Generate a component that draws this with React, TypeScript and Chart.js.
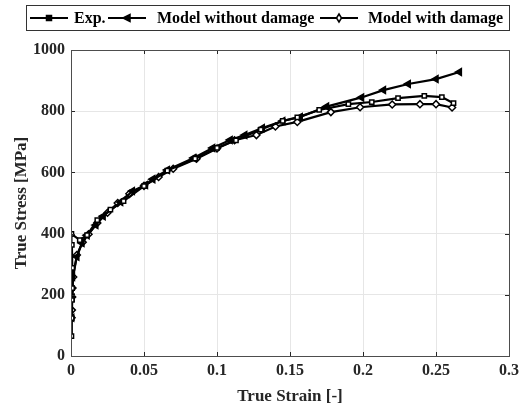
import React, { useEffect, useRef } from "react";
import { Chart, registerables } from "chart.js";

Chart.register(...registerables);

const expStrain = [0.0003, 0.0005, 0.0006, 0.0008, 0.0009, 0.0006, 0.0003, 0.006, 0.011, 0.018, 0.027, 0.036, 0.05, 0.066, 0.085, 0.1, 0.113, 0.13, 0.145, 0.155, 0.17, 0.19, 0.206, 0.224, 0.242, 0.254, 0.262];
const expStress = [65, 124, 183, 222, 288, 363, 399, 379, 395, 444, 478, 506, 555, 606, 645, 680, 705, 740, 768, 780, 804, 823, 830, 843, 850, 846, 826];

const noDmgStrain = [0.0005, 0.0008, 0.001, 0.004, 0.0075, 0.011, 0.017, 0.022, 0.034, 0.042, 0.051, 0.056, 0.066, 0.084, 0.097, 0.109, 0.119, 0.131, 0.145, 0.157, 0.175, 0.199, 0.214, 0.231, 0.25, 0.266];
const noDmgStress = [125, 190, 258, 324, 369, 395, 428, 457, 503, 539, 559, 578, 608, 647, 680, 706, 722, 745, 768, 781, 815, 845, 869, 889, 905, 928];

const dmgStrain = [0.0004, 0.0006, 0.0008, 0.001, 0.0015, 0.004, 0.008, 0.012, 0.018, 0.025, 0.032, 0.04, 0.05, 0.06, 0.07, 0.086, 0.1, 0.112, 0.127, 0.14, 0.155, 0.178, 0.198, 0.22, 0.239, 0.25, 0.261];
const dmgStress = [125, 150, 193, 222, 258, 330, 372, 398, 435, 468, 500, 530, 556, 585, 612, 645, 678, 705, 722, 750, 765, 797, 813, 822, 823, 823, 812];

const xTicks = [0, 0.05, 0.1, 0.15, 0.2, 0.25, 0.3];
const yTicks = [0, 200, 400, 600, 800, 1000];
const seriesNames = ["Exp.", "Model without damage", "Model with damage"];

const toPts = (xs: number[], ys: number[]) => xs.map((x, i) => ({ x, y: ys[i] }));

const FONT = "'Liberation Serif', 'Times New Roman', serif";
const TXT = "#262626";

function drawMarker(ctx: CanvasRenderingContext2D, kind: number, x: number, y: number) {
  ctx.save();
  ctx.lineWidth = 1.5;
  ctx.strokeStyle = "#000";
  ctx.beginPath();
  if (kind === 0) {
    ctx.rect(x - 2.5, y - 2.5, 5, 5);
    ctx.fillStyle = "#000";
    ctx.fill();
  } else if (kind === 1) {
    ctx.moveTo(x - 4, y);
    ctx.lineTo(x + 3, y - 3.5);
    ctx.lineTo(x + 3, y + 3.5);
    ctx.closePath();
    ctx.fillStyle = "#000";
    ctx.fill();
  } else {
    ctx.moveTo(x, y - 4);
    ctx.lineTo(x + 2.5, y);
    ctx.lineTo(x, y + 4);
    ctx.lineTo(x - 2.5, y);
    ctx.closePath();
    ctx.fillStyle = "#fff";
    ctx.fill();
  }
  ctx.stroke();
  ctx.restore();
}

const framePlugin = {
  id: "frame",
  afterDatasetsDraw(chart: any) {
    const { ctx, chartArea: a, scales } = chart;
    ctx.save();
    ctx.strokeStyle = "#262626";
    ctx.lineWidth = 1;
    xTicks.forEach((t) => {
      const px = Math.round(scales.x.getPixelForValue(t)) + 0.5;
      ctx.beginPath();
      ctx.moveTo(px, a.bottom);
      ctx.lineTo(px, a.bottom - 4);
      ctx.moveTo(px, a.top);
      ctx.lineTo(px, a.top + 4);
      ctx.stroke();
    });
    yTicks.forEach((t) => {
      const py = Math.round(scales.y.getPixelForValue(t)) + 0.5;
      ctx.beginPath();
      ctx.moveTo(a.left, py);
      ctx.lineTo(a.left + 4, py);
      ctx.moveTo(a.right, py);
      ctx.lineTo(a.right - 4, py);
      ctx.stroke();
    });
    ctx.strokeStyle = "#4d4d4d";
    ctx.strokeRect(Math.round(a.left) + 0.5, Math.round(a.top) + 0.5, Math.round(a.right - a.left), Math.round(a.bottom - a.top));
    ctx.restore();

    // legend
    ctx.save();
    ctx.fillStyle = "#fff";
    ctx.fillRect(26, 5, 483, 25);
    ctx.strokeStyle = "#333";
    ctx.lineWidth = 1;
    ctx.strokeRect(26.5, 5.5, 483, 25);
    const items = [
      { lx: 30, tx: 74 },
      { lx: 108, tx: 157 },
      { lx: 320, tx: 368 },
    ];
    items.forEach((it, i) => {
      const yc = 18;
      ctx.strokeStyle = "#000";
      ctx.lineWidth = 2;
      ctx.beginPath();
      ctx.moveTo(it.lx, yc);
      ctx.lineTo(it.lx + 38, yc);
      ctx.stroke();
      drawMarker(ctx, i, it.lx + 19, yc);
      ctx.fillStyle = "#000";
      ctx.font = `bold 16px ${FONT}`;
      ctx.textBaseline = "middle";
      ctx.textAlign = "left";
      ctx.fillText(seriesNames[i], it.tx, yc + 1);
    });
    ctx.restore();
  },
};

export default function App() {
  const ref = useRef<HTMLCanvasElement>(null);
  useEffect(() => {
    document.body.style.margin = "0";
    const ctx = ref.current!;
    const common = {
      showLine: true,
      borderColor: "#000",
      borderWidth: 2.2,
      pointBorderColor: "#000",
      pointBorderWidth: 1.5,
      tension: 0,
    };
    const chart = new Chart(ctx, {
      type: "scatter",
      data: {
        datasets: [
          {
            ...common,
            label: seriesNames[0],
            data: toPts(expStrain, expStress),
            pointStyle: "rect",
            pointRadius: 3,
            pointBackgroundColor: "#fff",
          },
          {
            ...common,
            label: seriesNames[1],
            data: toPts(noDmgStrain, noDmgStress),
            pointStyle: "triangle",
            pointRotation: -90,
            pointRadius: 4,
            pointBackgroundColor: "#000",
          },
          {
            ...common,
            label: seriesNames[2],
            data: toPts(dmgStrain, dmgStress),
            pointStyle: "rectRot",
            pointRadius: 3.5,
            pointBackgroundColor: "#fff",
          },
        ],
      },
      options: {
        animation: false,
        responsive: false,
        layout: { padding: { top: 50, right: 16, left: 0, bottom: 0 } },
        plugins: { legend: { display: false }, tooltip: { enabled: false } },
        scales: {
          x: {
            type: "linear",
            min: 0,
            max: 0.3,
            afterBuildTicks: (s: any) => {
              s.ticks = xTicks.map((v) => ({ value: v }));
            },
            afterFit: (s: any) => {
              s.height = 53;
            },
            grid: { color: "#e6e6e6", drawTicks: false, lineWidth: 1 },
            border: { display: false },
            ticks: {
              color: TXT,
              font: { family: FONT, size: 16, weight: "bold" },
              padding: 5,
              maxRotation: 0,
              callback: (v: any) => String(v),
            },
            title: {
              display: true,
              text: "True Strain [-]",
              color: TXT,
              font: { family: FONT, size: 17, weight: "bold" },
              padding: { top: 0, bottom: 2 },
            },
          },
          y: {
            type: "linear",
            min: 0,
            max: 1000,
            afterBuildTicks: (s: any) => {
              s.ticks = yTicks.map((v) => ({ value: v }));
            },
            afterFit: (s: any) => {
              s.width = 71;
            },
            grid: { color: "#e6e6e6", drawTicks: false, lineWidth: 1 },
            border: { display: false },
            ticks: {
              color: TXT,
              font: { family: FONT, size: 16, weight: "bold" },
              padding: 6,
              callback: (v: any) => String(v),
            },
            title: {
              display: true,
              text: "True Stress [MPa]",
              color: TXT,
              font: { family: FONT, size: 17, weight: "bold" },
              padding: { top: 11, bottom: 0 },
            },
          },
        },
      },
      plugins: [framePlugin],
    } as any);
    return () => chart.destroy();
  }, []);
  return <canvas ref={ref} width={525} height={409} style={{ display: "block" }} />;
}
